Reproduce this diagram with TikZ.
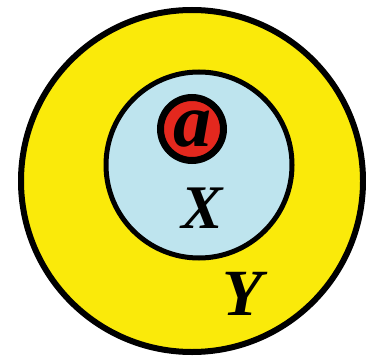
\documentclass[tikz,border=0pt]{standalone}
\usepackage{fontspec}
\setmainfont{Liberation Serif}
\usepackage{tikz}
\definecolor{yellowY}{RGB}{250,234,10}
\definecolor{blueX}{RGB}{190,228,238}
\definecolor{redA}{RGB}{228,40,30}
\tikzset{
  setcirc/.style={circle,draw=black,inner sep=0pt,outer sep=0pt},
  setlbl/.style={font=\fontsize{#1}{#1}\selectfont\bfseries\itshape,inner sep=0pt}
}

\begin{document}
\begin{tikzpicture}[x=1pt,y=-1pt]
  \useasboundingbox (0,0) rectangle (366,361);
  \node[setcirc,fill=yellowY,line width=6pt,minimum size=342pt] (setY) at (192,181){};
  \node[setcirc,fill=blueX,line width=5pt,minimum size=186pt] (setX) at (199,165){};
  \node[setcirc,fill=redA,line width=7pt,minimum size=63pt] (elemA) at (192,129){};
  \node[setlbl=76] (lblA) at (elemA){a};
  \node[setlbl=62] (lblX) at (202,208){X};
  \node[setlbl=66] (lblY) at (243,294){Y};
\end{tikzpicture}
\end{document}
